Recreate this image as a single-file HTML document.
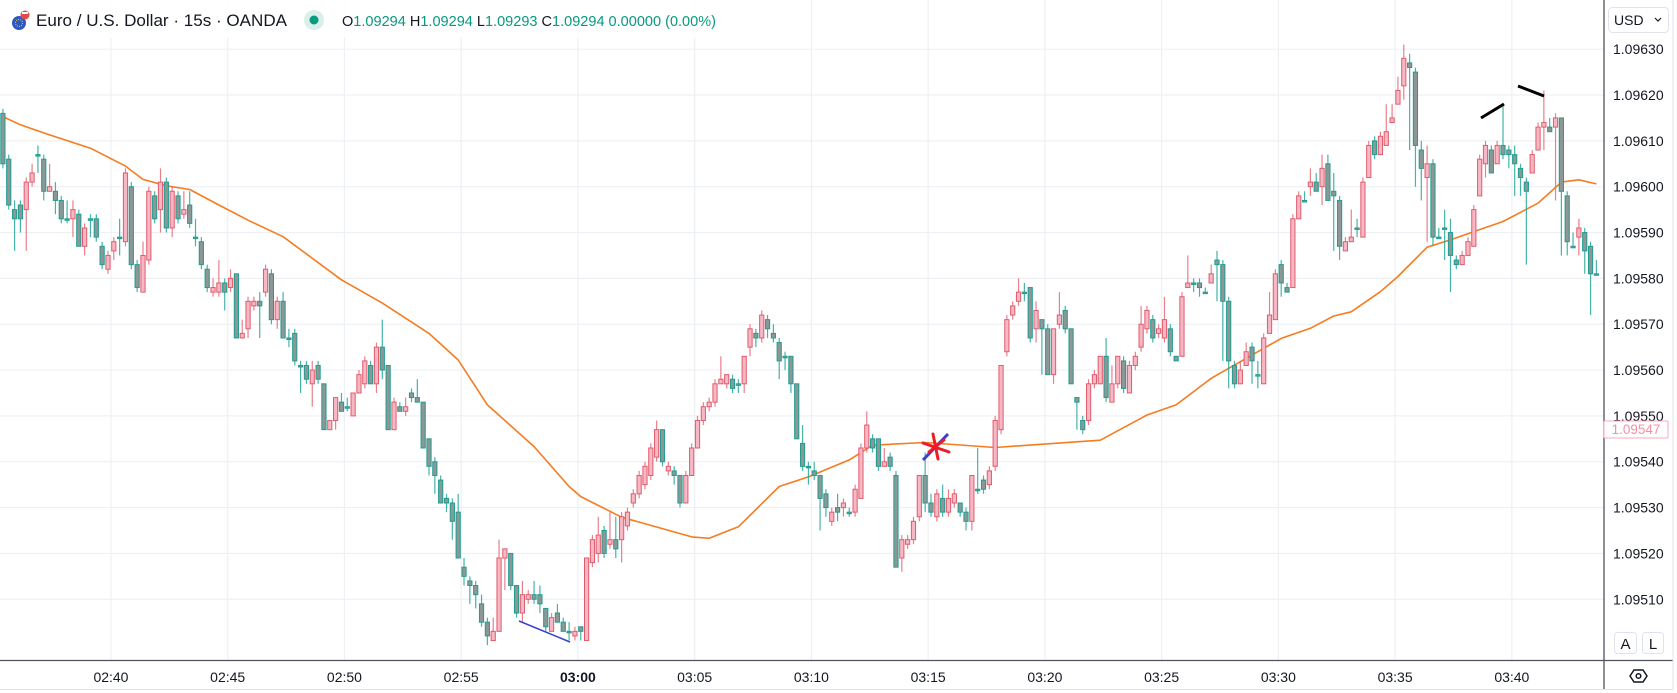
<!DOCTYPE html>
<html><head><meta charset="utf-8">
<style>
html,body{margin:0;padding:0;background:#fff;}
body{width:1677px;height:693px;overflow:hidden;font-family:"Liberation Sans",sans-serif;}
svg{display:block;}
text{font-family:"Liberation Sans",sans-serif;}
</style></head>
<body>
<svg id="chart" width="1677" height="693" viewBox="0 0 1677 693" xmlns="http://www.w3.org/2000/svg">
  <rect x="0" y="0" width="1677" height="693" fill="#ffffff"/>
  <g id="grid"></g>
  <g id="ma"></g>
  <g id="candles"></g>
  <g id="drawings">
    <line x1="519" y1="621" x2="570" y2="642" stroke="#3a3fd0" stroke-width="1.5"/>
    <line x1="923" y1="460" x2="948" y2="434" stroke="#3a3fd0" stroke-width="3"/>
    <g stroke="#ee1c25" stroke-width="3" stroke-linecap="round">
      <line x1="933" y1="434" x2="938" y2="459"/>
      <line x1="923" y1="443" x2="949" y2="452"/>
      <line x1="929" y1="452" x2="944" y2="440"/>
    </g>
    <line x1="1481" y1="118" x2="1504" y2="104" stroke="#000" stroke-width="3"/>
    <line x1="1518" y1="86" x2="1544" y2="96" stroke="#000" stroke-width="3"/>
  </g>
  <rect x="1604" y="0" width="73" height="693" fill="#fff"/>
  <rect x="0" y="661" width="1677" height="32" fill="#fff"/>
  <line x1="1604" y1="0" x2="1604" y2="690" stroke="#50535e" stroke-width="1.3"/>
  <line x1="0" y1="660.5" x2="1673" y2="660.5" stroke="#50535e" stroke-width="1.3"/>
  <line x1="1673" y1="0" x2="1673" y2="690" stroke="#e0e3eb" stroke-width="1"/>
  <line x1="0" y1="689.5" x2="1673" y2="689.5" stroke="#e0e3eb" stroke-width="1"/>
  <g id="yaxis"></g>
  <g id="xaxis"></g>
  <g>
    <rect x="1604" y="421" width="64" height="17" fill="#fff" stroke="#f7a9b9" stroke-width="1" rx="1"/>
    <text x="1636" y="434" font-size="13.5" fill="#f48fa6" text-anchor="middle">1.09547</text>
  </g>
  <g>
    <rect x="1608.5" y="7.5" width="60" height="25" rx="4" fill="#fff" stroke="#e0e3eb"/>
    <text x="1614" y="25" font-size="14" fill="#131722">USD</text>
    <path d="M1655 18 l3 3 l3 -3" fill="none" stroke="#131722" stroke-width="1.2"/>
  </g>
  <g>
    <rect x="1614.5" y="632.5" width="22" height="21" rx="3" fill="#fff" stroke="#e0e3eb"/>
    <text x="1625.5" y="649" font-size="15" fill="#131722" text-anchor="middle">A</text>
  </g>
  <g>
    <rect x="1642.5" y="632.5" width="21" height="21" rx="3" fill="#fff" stroke="#e0e3eb"/>
    <text x="1653" y="649" font-size="15" fill="#131722" text-anchor="middle">L</text>
  </g>
  <g fill="none" stroke="#131722" stroke-width="1.5">
    <path d="M1630 676 l4 -6 h9 l4 6 l-4 6 h-9 z"/>
    <circle cx="1638.5" cy="676" r="2.3"/>
  </g>
  <g>
    <rect x="0" y="0" width="735" height="38" fill="#ffffff" opacity="0.85"/>
    <g>
      <circle cx="19" cy="23" r="7" fill="#2b59c3"/>
      <circle cx="25" cy="15" r="4.5" fill="#e04a4a"/>
      <rect x="22" y="12" width="6" height="2" fill="#fff"/>
      <circle cx="19" cy="23" r="3.5" fill="none" stroke="#f5d33a" stroke-width="1" stroke-dasharray="1 1.2"/>
    </g>
    <text x="36" y="26" font-size="16.5" fill="#131722" textLength="251" lengthAdjust="spacingAndGlyphs">Euro / U.S. Dollar · 15s · OANDA</text>
    <circle cx="314" cy="20" r="10" fill="#d9f0ea"/>
    <circle cx="314" cy="20" r="4.5" fill="#089981"/>
    <text x="342" y="26" font-size="15" fill="#089981" textLength="374" lengthAdjust="spacingAndGlyphs"><tspan fill="#131722">O</tspan>1.09294 <tspan fill="#131722">H</tspan>1.09294 <tspan fill="#131722">L</tspan>1.09293 <tspan fill="#131722">C</tspan>1.09294 0.00000 (0.00%)</text>
  </g>
</svg>
<script>
const opens  = [116,106,95,96,95,101,107,106,99,99,97,93,93,94,87,93,93,87,82,86,89,88,100,83,77,84,98,95,101,91,98,94,96,89,88,82,77,77,79,78,81,67,69,74,75,77,81,71,75,67,68,61,61,57,61,57,47,49,53,52,50,55,57,61,57,65,61,47,52,51,55,54,53,45,40,36,32,31,29,17,14,13,9,5,1,3,19,20,13,7,10,11,11,8,3,7,5,3,2,4,1,18,20,25,22,23,23,26,31,33,35,37,41,47,38,38,37,31,37,43,49,52,53,57,57,58,57,57,65,68,67,71,68,66,63,63,57,44,39,38,37,33,27,30,30,29,29,32,43,45,45,39,41,37,19,22,23,28,37,31,28,32,29,31,31,29,27,34,36,35,39,47,64,72,75,77,78,69,71,69,59,70,73,69,54,49,49,57,57,63,53,57,62,55,61,65,69,71,68,67,69,63,63,78,79,79,77,79,84,83,75,61,57,61,65,59,57,68,71,83,78,78,93,97,100,101,100,105,99,97,86,88,91,89,102,110,107,109,114,118,122,127,125,108,102,105,89,91,90,84,83,85,87,98,105,108,105,109,108,107,104,101,103,108,113,113,113,115,98,87,89,90,87,81];
const highs  = [117,107,97,97,102,105,109,107,105,101,98,97,97,95,92,94,94,88,86,89,93,104,101,84,88,100,99,104,102,100,99,99,99,93,89,83,80,84,80,82,81,71,76,76,77,83,82,76,77,69,69,62,62,62,62,57,49,54,55,54,55,60,63,62,66,71,61,54,53,54,56,58,53,45,41,37,33,32,33,19,15,14,11,6,6,23,21,20,13,14,12,14,13,8,7,9,6,5,4,4,19,24,28,26,29,28,29,30,34,38,40,44,49,47,40,39,37,38,44,50,53,54,58,63,59,59,58,63,70,69,73,72,70,67,64,63,57,48,40,40,37,34,30,33,32,30,35,44,51,46,45,43,42,38,24,24,28,37,42,33,34,35,34,34,31,30,37,43,37,39,50,61,72,75,80,79,78,75,71,70,69,77,74,69,54,50,58,60,63,67,61,63,63,62,64,74,74,72,70,76,70,63,77,85,80,80,78,83,86,84,76,62,62,66,66,62,68,77,82,84,79,94,99,99,104,103,107,107,103,98,89,95,93,102,110,111,112,118,118,124,131,129,126,110,109,106,91,95,93,85,86,89,96,107,110,109,110,118,109,109,105,102,108,114,121,115,116,115,99,90,93,91,88,84];
const lows   = [104,95,86,90,86,100,103,97,99,94,92,92,89,87,85,89,88,82,81,84,85,87,82,77,77,83,92,90,90,89,92,93,91,87,82,77,76,76,73,77,67,67,67,73,67,76,70,69,67,65,61,55,57,52,57,47,47,47,51,51,50,55,56,57,55,58,47,47,51,50,53,53,43,37,33,31,29,23,19,13,9,8,4,0,1,3,12,12,6,5,9,9,7,3,3,5,3,1,1,1,1,17,18,19,21,19,18,25,30,32,34,36,40,39,37,35,30,31,37,43,48,51,52,57,56,55,55,55,63,65,66,67,66,58,60,55,45,38,35,36,25,28,26,27,28,28,28,32,42,42,38,39,38,17,16,21,22,27,29,28,27,28,28,30,28,25,25,33,33,34,38,46,63,71,74,75,66,66,59,59,57,69,68,57,47,46,48,56,57,53,53,56,55,55,60,64,68,66,67,66,63,62,77,78,77,76,78,82,75,62,56,56,59,61,57,56,68,70,73,76,77,91,95,99,98,99,96,97,86,84,87,89,89,101,106,106,108,111,117,121,119,108,100,97,88,87,89,84,77,82,84,86,97,104,102,104,106,106,104,98,98,83,105,112,108,112,97,85,85,88,85,81,72];
const closes = [105,96,93,93,101,103,107,99,100,97,93,93,95,87,91,93,89,83,85,88,89,103,83,78,85,99,93,101,91,99,93,95,92,89,83,78,78,79,77,80,67,68,75,75,74,82,71,75,67,67,62,61,58,60,58,47,49,54,51,52,55,59,62,57,65,60,47,53,51,52,54,53,43,39,37,31,31,27,19,15,13,11,5,2,3,19,21,13,7,11,11,10,9,4,6,5,3,3,3,3,19,23,24,20,23,21,28,29,33,37,39,43,47,40,39,37,31,37,43,49,52,53,57,58,59,56,57,63,69,67,72,69,67,62,63,57,45,39,39,37,32,30,29,29,31,29,34,43,48,43,39,40,39,17,23,23,27,37,31,29,33,29,32,33,29,27,37,34,34,38,49,61,71,74,77,77,67,73,69,59,69,72,69,57,53,47,57,59,63,54,57,63,56,61,63,70,73,67,69,71,64,62,76,79,79,78,77,81,83,75,62,57,60,64,62,59,67,72,81,79,77,93,98,97,101,99,104,97,98,87,88,89,91,101,109,107,111,112,115,121,128,126,109,104,105,89,89,91,85,83,85,88,95,106,109,103,109,107,107,105,102,99,107,113,114,112,115,99,88,87,91,86,81,81];
const maIndex = [0,3,8,15,21,24,28,32,37,42,48,58,65,73,78,83,91,97,99,106,118,121,126,133,138,145,149,158,170,180,188,196,201,207,219,224,228,231,236,239,244,248,252,257,263,267,270,273];
const maValue = [115.3,113.5,111.3,108.4,104.5,101.6,100.2,99.4,96,92.7,89.1,79.7,74.6,68,62.2,52.4,43.3,34.6,32.4,27.9,23.6,23.3,25.8,34.6,36.7,40.4,43.6,44.2,43.1,44,44.7,50.2,52.4,58.2,66.9,69.1,71.8,72.7,77.1,80.4,86.8,88.4,90.2,92.4,96.4,101,101.5,100.6];
const priceTicks = [10,20,30,40,50,60,70,80,90,100,110,120,130];
const priceTickLabels = ["1.09510","1.09520","1.09530","1.09540","1.09550","1.09560","1.09570","1.09580","1.09590","1.09600","1.09610","1.09620","1.09630"];
const timeTickIndex = [18,38,58,78,98,118,138,158,178,198,218,238,258];
const timeTickLabels = ["02:40","02:45","02:50","02:55","03:00","03:05","03:10","03:15","03:20","03:25","03:30","03:35","03:40"];

const SVGNS = "http://www.w3.org/2000/svg";
function xScale(i){ return 2.9 + 5.837 * i; }
function yScale(p){ return 645.1 - 4.584 * p; }
function mk(tag, attrs, parent){
  const el = document.createElementNS(SVGNS, tag);
  for (const k in attrs) el.setAttribute(k, attrs[k]);
  parent.appendChild(el);
  return el;
}
const grid = document.getElementById('grid');
const candlesG = document.getElementById('candles');
const maG = document.getElementById('ma');
const yaxis = document.getElementById('yaxis');
const xaxis = document.getElementById('xaxis');

priceTicks.forEach((p, k) => {
  const y = yScale(p);
  const gl = mk('line', {x1:0, x2:1604, y1:y, y2:y, stroke:'#edf0f4', 'stroke-width':1.2}, grid);
  
  
  const t = mk('text', {x:1613, y:y + 5, 'font-size':14, fill:'#131722'}, yaxis);
  t.textContent = priceTickLabels[k];
  
  
});
timeTickIndex.forEach((ti, k) => {
  const x = xScale(ti) + 3;
  const gl = mk('line', {x1:x, x2:x, y1:0, y2:660, stroke:'#edf0f4', 'stroke-width':1.2}, grid);
  
  
  const bold = timeTickLabels[k] === "03:00";
  const t = mk('text', {x:x, y:682, 'font-size':14, fill:'#131722', 'text-anchor':'middle', 'font-weight': bold ? 'bold' : 'normal'}, xaxis);
  t.textContent = timeTickLabels[k];
  
  
});

for (let i = 0; i < closes.length; i++){
  const o = (opens[i] !== undefined) ? opens[i] : closes[i];
  const c = closes[i];
  const h = Math.max((highs[i] !== undefined) ? highs[i] : c, o, c);
  const l = Math.min((lows[i] !== undefined) ? lows[i] : c, o, c);
  const up = c > o;
  const x = xScale(i);
  const g = mk('g', {}, candlesG);
  
  
  const wickCol = up ? '#e36a77' : '#26a69a';
  mk('line', {x1:x, x2:x, y1:yScale(h), y2:yScale(l), stroke:wickCol, 'stroke-width':1.2, opacity:0.85}, g);
  const top = yScale(Math.max(o, c)), bot = yScale(Math.min(o, c));
  const hgt = Math.max(1.5, bot - top);
  mk('rect', {x:x - 2.1, y:top, width:4.2, height:hgt,
    fill: up ? '#f6b8c4' : '#8c9796', stroke: up ? '#e05c6c' : '#1e9e90', 'stroke-width':1}, g);
}

const pts = maIndex.map((ix, k) => xScale(ix).toFixed(1) + ',' + yScale(maValue[k]).toFixed(1)).join(' ');
const maLine = mk('polyline', {points:pts, fill:'none', stroke:'#f57c20', 'stroke-width':1.6, 'stroke-linejoin':'round'}, maG);


</script>
</body></html>
